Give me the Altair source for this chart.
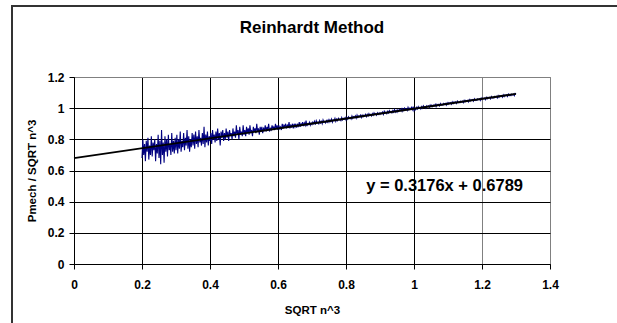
import altair as alt
import pandas as pd

# Measured series (SQRT n^3 sampled every 0.0025 from 0.2 to 1.3)
x_start = 0.2
x_step = 0.0025
pmech = [
    0.68, 0.80, 0.70, 0.77, 0.66, 0.79, 0.72, 0.81, 0.67, 0.76, 0.70, 0.82, 0.69, 0.78, 0.73, 0.80, 0.66, 0.77, 0.71, 0.83,
    0.68, 0.79, 0.64, 0.86, 0.70, 0.78, 0.65, 0.82, 0.72, 0.80, 0.69, 0.83, 0.73, 0.77, 0.70, 0.84, 0.72, 0.79, 0.71, 0.81,
    0.73, 0.83, 0.71, 0.80, 0.74, 0.85, 0.72, 0.79, 0.75, 0.84, 0.73, 0.81, 0.76, 0.86, 0.74, 0.82, 0.72, 0.80, 0.75, 0.84,
    0.76, 0.83, 0.74, 0.85, 0.77, 0.82, 0.75, 0.86, 0.78, 0.81, 0.76, 0.84, 0.77, 0.88, 0.75, 0.83, 0.78, 0.85, 0.76, 0.82,
    0.79, 0.84, 0.77, 0.86, 0.80, 0.83, 0.78, 0.85, 0.79, 0.87, 0.80, 0.84, 0.76, 0.85, 0.81, 0.86, 0.79, 0.84, 0.80, 0.87,
    0.81, 0.85, 0.79, 0.86, 0.82, 0.84, 0.80, 0.87, 0.82, 0.85, 0.81, 0.89, 0.83, 0.86, 0.80, 0.88, 0.83, 0.85, 0.82, 0.89,
    0.83, 0.86, 0.82, 0.88, 0.84, 0.87, 0.83, 0.89, 0.84, 0.86, 0.82, 0.88, 0.85, 0.87, 0.84, 0.90, 0.85, 0.87, 0.83, 0.88,
    0.85, 0.88, 0.84, 0.87, 0.86, 0.89, 0.85, 0.88, 0.86, 0.90, 0.85, 0.87, 0.86, 0.89, 0.87, 0.88, 0.86, 0.90, 0.87, 0.89,
    0.86, 0.89, 0.87, 0.88, 0.86, 0.90, 0.87, 0.89, 0.88, 0.90, 0.87, 0.89, 0.88, 0.91, 0.87, 0.89, 0.88, 0.90, 0.87, 0.90,
    0.88, 0.90, 0.875, 0.895, 0.885, 0.91, 0.88, 0.90, 0.89, 0.91, 0.885, 0.905, 0.89, 0.92, 0.885, 0.90, 0.895, 0.91, 0.89, 0.905,
    0.895, 0.91, 0.90, 0.915, 0.895, 0.92, 0.905, 0.91, 0.90, 0.92, 0.905, 0.915, 0.90, 0.925, 0.91, 0.915, 0.905, 0.92, 0.91, 0.925,
    0.91, 0.925, 0.915, 0.93, 0.91, 0.925, 0.92, 0.935, 0.915, 0.93, 0.92, 0.935, 0.925, 0.93, 0.92, 0.94, 0.925, 0.935, 0.93, 0.94,
    0.925, 0.94, 0.93, 0.945, 0.935, 0.94, 0.93, 0.95, 0.935, 0.945, 0.94, 0.95, 0.935, 0.955, 0.94, 0.95, 0.945, 0.955, 0.94, 0.955,
    0.945, 0.955, 0.95, 0.96, 0.945, 0.96, 0.95, 0.965, 0.955, 0.96, 0.95, 0.965, 0.955, 0.97, 0.96, 0.965, 0.955, 0.97, 0.96, 0.97,
    0.96, 0.97, 0.965, 0.975, 0.96, 0.98, 0.97, 0.975, 0.965, 0.98, 0.97, 0.985, 0.975, 0.98, 0.97, 0.985, 0.975, 0.99, 0.975, 0.985,
    0.975, 0.99, 0.98, 0.99, 0.985, 0.995, 0.98, 0.995, 0.985, 1.0, 0.99, 0.995, 0.985, 1.005, 0.99, 1.0, 0.995, 1.005, 0.99, 1.01,
    0.985, 1.0, 0.99, 1.005, 0.995, 1.01, 1.0, 1.005, 0.995, 1.01, 1.0, 1.015, 1.005, 1.01, 1.0, 1.015, 1.01, 1.015, 1.005, 1.02,
    1.01, 1.02, 1.01, 1.02, 1.015, 1.025, 1.01, 1.025, 1.02, 1.025, 1.015, 1.03, 1.02, 1.025, 1.02, 1.03, 1.025, 1.03, 1.02, 1.035,
    1.025, 1.035, 1.03, 1.035, 1.025, 1.04, 1.03, 1.04, 1.035, 1.04, 1.03, 1.045, 1.035, 1.04, 1.035, 1.045, 1.04, 1.045, 1.035, 1.05,
    1.04, 1.05, 1.045, 1.05, 1.04, 1.055, 1.045, 1.055, 1.05, 1.055, 1.045, 1.06, 1.05, 1.055, 1.05, 1.06, 1.055, 1.06, 1.05, 1.065,
    1.055, 1.065, 1.06, 1.065, 1.055, 1.07, 1.06, 1.07, 1.065, 1.07, 1.06, 1.075, 1.065, 1.07, 1.065, 1.075, 1.07, 1.075, 1.065, 1.08,
    1.07, 1.08, 1.075, 1.08, 1.07, 1.085, 1.075, 1.085, 1.08, 1.085, 1.075, 1.09, 1.08, 1.085, 1.08, 1.09, 1.085, 1.09, 1.08, 1.095,
    1.09,
]
sqrt_n3 = [round(x_start + x_step * i, 4) for i in range(len(pmech))]

# Trendline endpoints (as shown in the chart)
trend_x = [0.0, 1.3]
trend_y = [0.6789, 1.0918]
equation_label = "y = 0.3176x + 0.6789"

x_ticks = [0, 0.2, 0.4, 0.6, 0.8, 1.0, 1.2, 1.4]
y_ticks = [0, 0.2, 0.4, 0.6, 0.8, 1.0, 1.2]

FONT = "Liberation Sans"

df = pd.DataFrame({"x": sqrt_n3, "y": pmech})
trend_df = pd.DataFrame({"x": trend_x, "y": trend_y})
eq_df = pd.DataFrame({"x": [1.09], "y": [0.5], "t": [equation_label]})
one = pd.DataFrame({"d": [0]})

x_scale = alt.Scale(domain=[0, 1.4], nice=False, zero=False)
y_scale = alt.Scale(domain=[0, 1.2], nice=False, zero=False)

grid_color = {"condition": {"test": "datum.value >= 1.19", "value": "#808080"}, "value": "#000000"}

x_axis = alt.Axis(
    title="SQRT n^3", values=x_ticks, tickCount=8,
    format="~g", grid=True, gridColor=grid_color, gridWidth=1, gridOpacity=1,
    domainColor="#000", domainWidth=1, tickColor="#000", tickSize=5,
    labelFont=FONT, labelFontSize=12, labelFontWeight="bold", labelColor="#000",
    labelPadding=10, labelFlush=False, labelOverlap=False,
    titleFont=FONT, titleFontSize=11.5, titleFontWeight="bold", titleColor="#000",
    titlePadding=14,
)
y_axis = alt.Axis(
    title="Pmech / SQRT n^3", values=y_ticks, tickCount=7,
    format="~g", grid=True, gridColor=grid_color, gridWidth=1, gridOpacity=1,
    domainColor="#000", domainWidth=1, tickColor="#000", tickSize=5,
    labelFont=FONT, labelFontSize=12, labelFontWeight="bold", labelColor="#000",
    labelPadding=5, labelFlush=False, labelOverlap=False,
    titleFont=FONT, titleFontSize=11.5, titleFontWeight="bold", titleColor="#000",
    titlePadding=10,
)

X = alt.X("x:Q", scale=x_scale, axis=x_axis)
Y = alt.Y("y:Q", scale=y_scale, axis=y_axis)

data_line = alt.Chart(df).mark_line(color="#000080", strokeWidth=1.1).encode(x=X, y=Y)

trend = alt.Chart(trend_df).mark_line(color="#000000", strokeWidth=1.8).encode(x=X, y=Y)

eq_text = alt.Chart(eq_df).mark_text(
    font=FONT, fontSize=16.5, fontWeight="bold", color="#000",
    align="center", baseline="middle",
).encode(x=X, y=Y, text="t:N")

frame_top = alt.Chart(one).mark_rule(color="#333333", strokeWidth=2).encode(
    x=alt.value(-62), x2=alt.value(620), y=alt.value(-71)
)
frame_left = alt.Chart(one).mark_rule(color="#333333", strokeWidth=2).encode(
    x=alt.value(-62), y=alt.value(-72), y2=alt.value(260)
)

chart = alt.layer(frame_top, frame_left, data_line, trend, eq_text).properties(
    width=476,
    height=187,
    autosize=alt.AutoSizeParams(type="none"),
    padding={"left": 74, "top": 77, "right": 67, "bottom": 59},
    title=alt.TitleParams(
        "Reinhardt Method", font=FONT, fontSize=17, fontWeight="bold",
        color="#000", anchor="middle", frame="group", baseline="alphabetic",
        offset=0, dy=46,
    ),
    background="#ffffff",
).configure_view(stroke="#808080", strokeWidth=1)

chart.save("out.html", embed_options={"renderer": "svg", "actions": False})
